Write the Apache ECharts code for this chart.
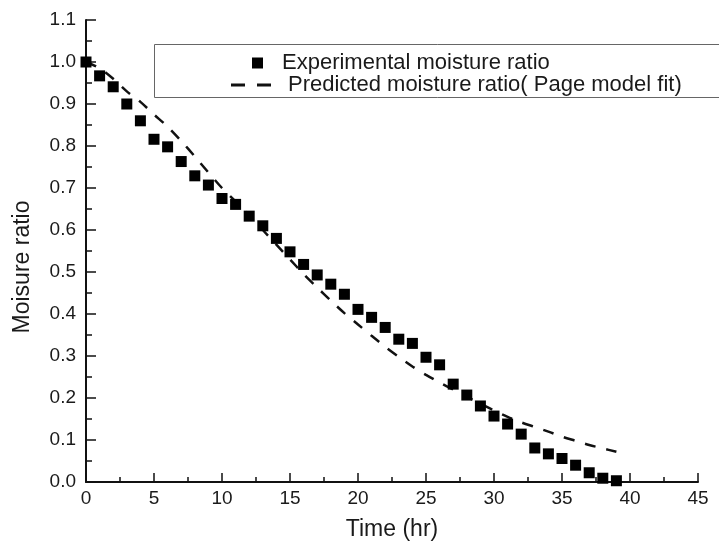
<!DOCTYPE html>
<html>
<head>
<meta charset="utf-8">
<script src="https://cdn.jsdelivr.net/npm/echarts@6/dist/echarts.min.js"></script>
<style>
  html, body { margin: 0; padding: 0; background: #fff; }
  #chart { width: 719px; height: 552px; }
</style>
</head>
<body>
<div id="chart"></div>
<script>
// time (hr) of each measurement
const timeHr = [0, 1, 2, 3, 4, 5, 6, 7, 8, 9, 10, 11, 12, 13, 14, 15, 16, 17, 18, 19,
  20, 21, 22, 23, 24, 25, 26, 27, 28, 29, 30, 31, 32, 33, 34, 35, 36, 37, 38, 39];

// experimental moisture ratio (squares)
const experimentalMR = [1.0, 0.967, 0.941, 0.900, 0.860, 0.816, 0.798, 0.763, 0.729, 0.707,
  0.675, 0.661, 0.633, 0.610, 0.580, 0.548, 0.518, 0.493, 0.471, 0.447,
  0.411, 0.392, 0.368, 0.340, 0.330, 0.297, 0.279, 0.233, 0.207, 0.181,
  0.157, 0.138, 0.114, 0.081, 0.067, 0.056, 0.040, 0.022, 0.009, 0.003];

// predicted moisture ratio, Page model fit (dashed line)
const predictedMR = [1.0, 0.985, 0.960, 0.930, 0.905, 0.875, 0.846, 0.812, 0.775, 0.737,
  0.700, 0.668, 0.635, 0.600, 0.565, 0.530, 0.495, 0.463, 0.432, 0.402,
  0.375, 0.348, 0.322, 0.298, 0.275, 0.255, 0.237, 0.220, 0.203, 0.187,
  0.170, 0.155, 0.142, 0.131, 0.120, 0.108, 0.098, 0.088, 0.080, 0.072];

const expName = "Experimental moisture ratio";
const predName = "Predicted moisture ratio( Page model fit)";

const chart = echarts.init(document.getElementById("chart"));

const labelFont = {
  color: "#1a1a1a",
  fontSize: 19,
  fontFamily: "Liberation Sans, Arial, sans-serif",
};

chart.setOption({
  animation: false,
  backgroundColor: "#fff",
  grid: { left: 86, right: 21, top: 20, bottom: 70 },
  graphic: [
    {
      type: "rect",
      left: 152,
      top: 42,
      shape: { width: 580, height: 53 },
      style: { fill: "none", stroke: "#666", lineWidth: 1 },
      z: 10,
    },
  ],
  legend: [
    {
      data: [{ name: expName, icon: "rect" }],
      left: 247,
      top: 46,
      itemWidth: 11,
      itemHeight: 11,
      itemStyle: { color: "#000", opacity: 1 },
      textStyle: { ...labelFont, fontSize: 22, lineHeight: 24, padding: [0, 0, 0, 14] },
    },
    {
      // two short dashes as the legend key
      data: [{ name: predName, icon: "path://M0,0h14v3h-14z M26,0h14v3h-14z" }],
      left: 226,
      top: 68,
      itemWidth: 40,
      itemHeight: 3,
      itemStyle: { color: "#111" },
      textStyle: { ...labelFont, fontSize: 22, lineHeight: 24, padding: [0, 0, 0, 12] },
    },
  ],
  xAxis: {
    type: "value",
    min: 0,
    max: 45,
    interval: 5,
    name: "Time (hr)",
    nameLocation: "middle",
    nameGap: 36,
    nameTextStyle: { ...labelFont, fontSize: 23 },
    axisLine: { show: true, lineStyle: { color: "#111", width: 2 } },
    axisTick: { show: true, inside: true, length: 9, lineStyle: { color: "#111", width: 1.5 } },
    minorTick: { show: true, splitNumber: 2, length: 5, lineStyle: { color: "#111", width: 1.5 } },
    axisLabel: { ...labelFont, margin: 7 },
    splitLine: { show: false },
  },
  yAxis: {
    type: "value",
    min: 0,
    max: 1.1,
    interval: 0.1,
    name: "Moisure ratio",
    nameLocation: "middle",
    nameGap: 52,
    // extra space after the text moves it a little lower, as in the original
    nameTextStyle: { ...labelFont, fontSize: 23, padding: [0, 32, 0, 0] },
    axisLine: { show: true, lineStyle: { color: "#111", width: 2 } },
    axisTick: { show: true, inside: true, length: 10, lineStyle: { color: "#111", width: 1.5 } },
    minorTick: { show: true, splitNumber: 2, length: 6, lineStyle: { color: "#111", width: 1.5 } },
    axisLabel: { ...labelFont, margin: 10, formatter: (v) => v.toFixed(1) },
    splitLine: { show: false },
  },
  series: [
    {
      name: predName,
      type: "line",
      data: timeHr.map((t, i) => [t, predictedMR[i]]),
      symbol: "none",
      smooth: 0.3,
      lineStyle: { color: "#111", width: 2.5, type: [11, 11] },
      itemStyle: { color: "#111" },
      z: 2,
    },
    {
      name: expName,
      type: "scatter",
      data: timeHr.map((t, i) => [t, experimentalMR[i]]),
      symbol: "rect",
      symbolSize: 11,
      itemStyle: { color: "#000", opacity: 1 },
      z: 3,
    },
  ],
});
</script>
</body>
</html>
